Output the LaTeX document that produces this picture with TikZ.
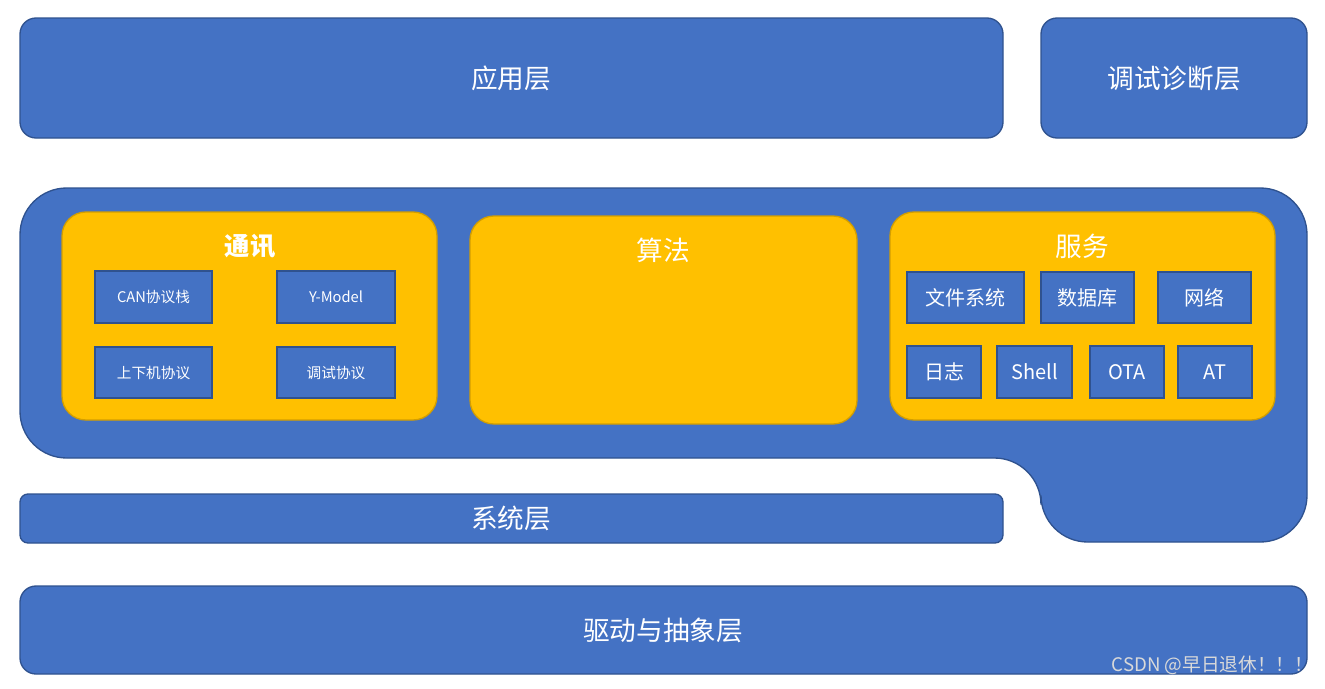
\documentclass[tikz,border=0pt]{standalone}
\usepackage{fontspec}
\setmainfont{Noto Sans CJK SC}
\begin{document}
\begin{tikzpicture}[x=0.75pt,y=-0.75pt,
 bluebox/.style={fill=blueF,draw=blueD,line width=1pt,rounded corners=12pt},
 orbox/.style={fill=orF,draw=orD,line width=1pt,rounded corners=18pt},
 sbox/.style={fill=blueF,draw=blueD,line width=1.2pt},
 big/.style={font=\fontsize{20}{24}\selectfont,text=white},
 ttl/.style={font=\fontsize{19}{22}\selectfont\bfseries,text=white},
 sm/.style={font=\fontsize{11}{13}\selectfont,text=white},
 md/.style={font=\fontsize{15}{18}\selectfont,text=white}]
\definecolor{blueF}{HTML}{4472C4}
\definecolor{blueD}{HTML}{2F528F}
\definecolor{orF}{HTML}{FFC000}
\definecolor{orD}{HTML}{D39E00}
\useasboundingbox (0,0) rectangle (1325,689);
\fill[white] (0,0) rectangle (1325,689);
\draw[bluebox] (20,18) rectangle (1003,138);
\node[big] (app) at (511,78) {应用层};
\draw[bluebox] (1041,18) rectangle (1307,138);
\node[big] (dbg) at (1174,78) {调试诊断层};
\draw[fill=blueF,draw=blueD,line width=1pt,rounded corners=35pt] (20,188) -- (1307,188) -- (1307,542) -- (1041,542) -- (1041,458) -- (20,458) -- cycle;
\draw[orbox] (62,212) rectangle (437,420);
\node[ttl] (tx) at (250,246) {通讯};
\draw[orbox] (470,216) rectangle (857,424);
\node[big] (sf) at (663,250) {算法};
\draw[orbox] (890,212) rectangle (1275,420);
\node[big] (fw) at (1082,246) {服务};
\draw[sbox] (95,271) rectangle (212,323); \node[sm] (can) at (153.5,297) {CAN协议栈};
\draw[sbox] (277,271) rectangle (395,323); \node[sm] (ym) at (336,297) {Y-Model};
\draw[sbox] (95,347) rectangle (212,398); \node[sm] (sx) at (153.5,372.5) {上下机协议};
\draw[sbox] (277,347) rectangle (395,398); \node[sm] (ts) at (336,372.5) {调试协议};
\draw[sbox] (907,272) rectangle (1024,323); \node[md] (wj) at (965.5,297.5) {文件系统};
\draw[sbox] (1041,272) rectangle (1134,323); \node[md] (sj) at (1087.5,297.5) {数据库};
\draw[sbox] (1158,272) rectangle (1251,323); \node[md] (wl) at (1204.5,297.5) {网络};
\draw[sbox] (907,346) rectangle (981,398); \node[md] (rz) at (944,372) {日志};
\draw[sbox] (997,346) rectangle (1072,398); \node[md] (sh) at (1034.5,372) {Shell};
\draw[sbox] (1090,346) rectangle (1164,398); \node[md] (ota) at (1127,372) {OTA};
\draw[sbox] (1178,346) rectangle (1252,398); \node[md] (at) at (1215,372) {AT};
\draw[bluebox,rounded corners=6pt] (20,494) rectangle (1003,543);
\node[big] (sys) at (511,518) {系统层};
\draw[bluebox] (20,586) rectangle (1307,674);
\node[big] (drv) at (663,630) {驱动与抽象层};
\node[font=\fontsize{14}{16}\selectfont,text=white!85!black,anchor=east] (wm) at (1318,665) {CSDN @早日退休！！！};
\end{tikzpicture}
\end{document}
